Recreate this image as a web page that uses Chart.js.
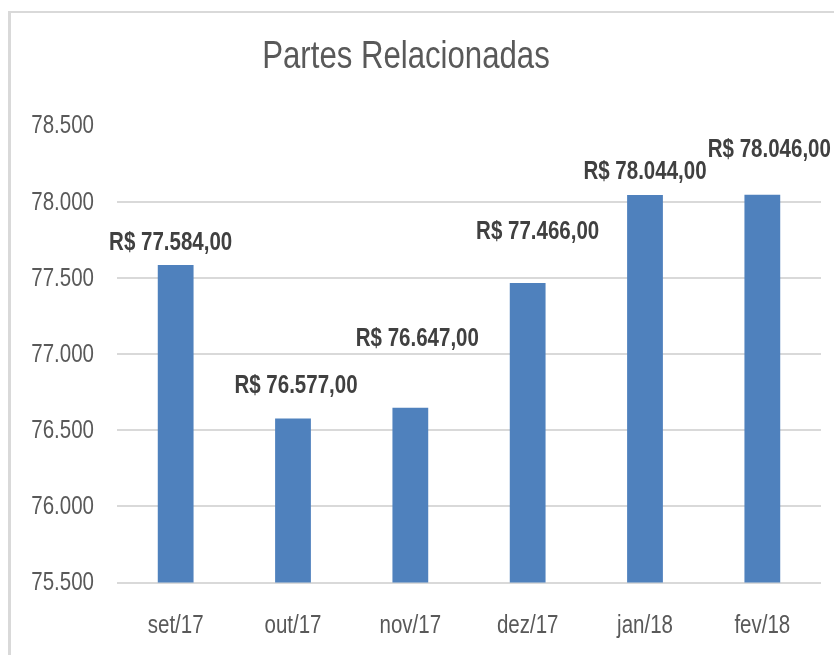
<!DOCTYPE html>
<html lang="pt-BR">
<head>
<meta charset="utf-8">
<title>Partes Relacionadas</title>
<script src="https://cdn.jsdelivr.net/npm/chart.js@4.4.1/dist/chart.umd.min.js"></script>
<style>
  html, body { margin: 0; padding: 0; background: #fff; overflow: hidden; }
  #wrap { position: relative; width: 834px; height: 655px; }
  /* moldura cinza do gráfico (continua além da borda direita/inferior) */
  #frame {
    position: absolute; left: 8px; top: 11px; width: 840px; height: 660px;
    border-left: 3px solid #d9d9d9; border-top: 2px solid #d9d9d9;
  }
  #chart { position: absolute; left: 0; top: 0; }
</style>
</head>
<body>
<div id="wrap">
  <div id="frame"></div>
  <canvas id="chart" width="834" height="655"></canvas>
</div>
<script>
// Dados
const meses   = ["set/17", "out/17", "nov/17", "dez/17", "jan/18", "fev/18"];
const valores = [77584, 76577, 76647, 77466, 78044, 78046];
const eixoMin = 75500;
const eixoMax = 78500;
const eixoPasso = 500;
const titulo = "Partes Relacionadas";

// Deslocamento de cada rótulo em relação ao topo da barra (dx, dy)
const rotuloDx = [-5, 3, 7, 10, 0, 7];
const rotuloDy = [-22, -32, -69, -51, -23, -45];

// Não há fonte "narrow" instalada: usa Liberation Sans comprimida na horizontal
const FONTE = "'Liberation Sans', Arial, sans-serif";
const ESTREITA = 0.82;
const AZUL = "#4f81bd";
const CINZA_TEXTO = "#595959";
const CINZA_GRADE = "#d9d9d9";

// 78500 -> "78.500"
function milhar(v) {
  return String(Math.round(v)).replace(/\B(?=(\d{3})+(?!\d))/g, ".");
}
// 77584 -> "R$ 77.584,00"
function reais(v) {
  return "R$ " + milhar(Math.floor(v)) + "," + String(Math.round((v % 1) * 100)).padStart(2, "0");
}

function textoEstreito(ctx, texto, x, y, fonte, cor, alinhamento, base) {
  ctx.save();
  ctx.translate(x, y);
  ctx.scale(ESTREITA, 1);
  ctx.font = fonte;
  ctx.fillStyle = cor;
  ctx.textAlign = alinhamento;
  ctx.textBaseline = base;
  ctx.fillText(texto, 0, 0);
  ctx.restore();
}

// Título, rótulos dos eixos e valores das barras
const textos = {
  id: "textos",
  afterDraw(chart) {
    const { ctx, scales } = chart;
    const fonteEixo = "25px " + FONTE;

    textoEstreito(ctx, titulo, 406, 68, "38px " + FONTE, CINZA_TEXTO, "center", "alphabetic");

    scales.y.ticks.forEach((t, i) => {
      textoEstreito(ctx, milhar(t.value), scales.y.right - 23, scales.y.getPixelForTick(i) + 1,
        fonteEixo, CINZA_TEXTO, "right", "middle");
    });

    scales.x.ticks.forEach((t, i) => {
      textoEstreito(ctx, meses[i], scales.x.getPixelForTick(i), scales.x.top + 44,
        fonteEixo, CINZA_TEXTO, "center", "middle");
    });

    chart.getDatasetMeta(0).data.forEach((bar, i) => {
      textoEstreito(ctx, reais(valores[i]), bar.x + rotuloDx[i], bar.y + rotuloDy[i],
        "bold 25px " + FONTE, "#404040", "center", "middle");
    });
  }
};

new Chart(document.getElementById("chart"), {
  type: "bar",
  data: {
    labels: meses,
    datasets: [{
      data: valores,
      backgroundColor: AZUL,
      borderWidth: 0,
      categoryPercentage: 1,
      barPercentage: 0.305
    }]
  },
  options: {
    responsive: false,
    animation: false,
    layout: { padding: { left: 0, right: 13, top: 125.5, bottom: 0 } },
    plugins: {
      legend: { display: false },
      tooltip: { enabled: false },
      title: { display: false }
    },
    scales: {
      x: {
        grid: { display: false, drawTicks: false },
        border: { display: false },
        ticks: { display: false },
        afterFit(scale) { scale.height = 72.5; }
      },
      y: {
        min: eixoMin,
        max: eixoMax,
        grid: {
          drawTicks: false,
          lineWidth: 2,
          color: c => (c.tick && c.tick.value === eixoMax ? "rgba(0,0,0,0)" : CINZA_GRADE)
        },
        border: { display: false },
        ticks: { display: false, stepSize: eixoPasso },
        afterFit(scale) { scale.width = 117; }
      }
    }
  },
  plugins: [textos]
});
</script>
</body>
</html>
